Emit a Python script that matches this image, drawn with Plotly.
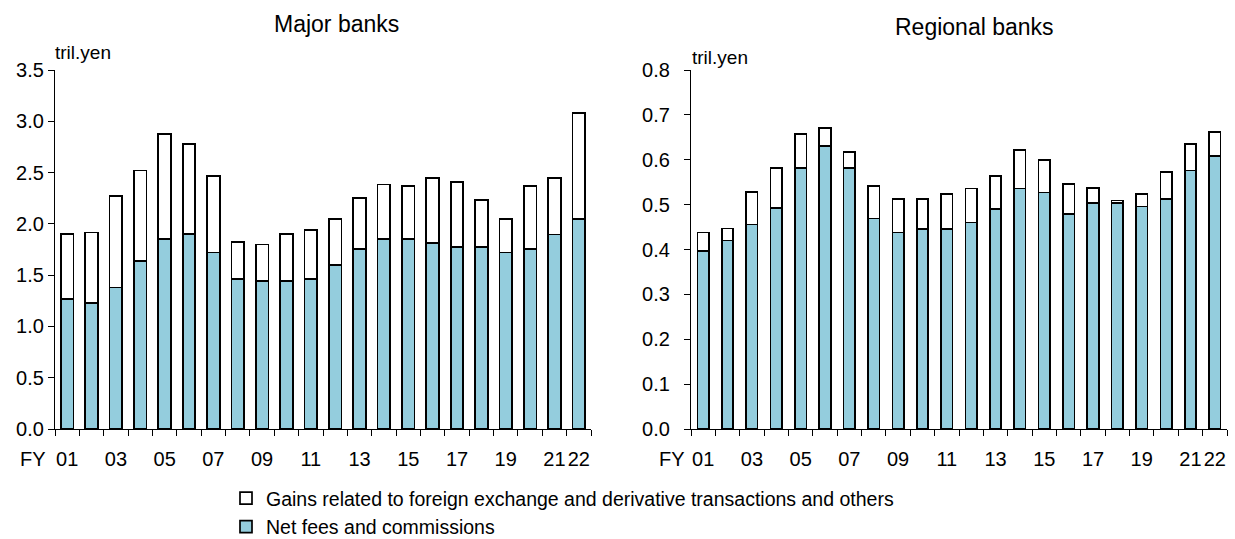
import plotly.graph_objects as go

years = ["01","02","03","04","05","06","07","08","09","10","11",
         "12","13","14","15","16","17","18","19","20","21","22"]
tick_labels = ["01","","03","","05","","07","","09","","11",
               "","13","","15","","17","","19","","21","22"]

# Major banks (tril. yen)
major_fees = [1.27,1.23,1.38,1.64,1.855,1.90,1.72,1.465,1.445,1.445,1.465,
              1.60,1.757,1.855,1.855,1.816,1.777,1.777,1.72,1.757,1.895,2.05]
major_total = [1.90,1.917,2.27,2.52,2.875,2.78,2.47,1.82,1.80,1.90,1.94,
               2.05,2.25,2.385,2.37,2.45,2.41,2.23,2.05,2.37,2.45,3.08]

# Regional banks (tril. yen)
reg_fees = [0.397,0.42,0.456,0.492,0.582,0.631,0.582,0.469,0.438,0.446,0.446,
            0.46,0.491,0.536,0.527,0.479,0.504,0.503,0.496,0.513,0.576,0.608]
reg_total = [0.438,0.447,0.528,0.582,0.657,0.671,0.617,0.5415,0.513,0.513,0.523,
             0.536,0.564,0.622,0.599,0.546,0.537,0.509,0.523,0.573,0.635,0.6625]

major_gains = [round(t - f, 4) for t, f in zip(major_total, major_fees)]
reg_gains = [round(t - f, 4) for t, f in zip(reg_total, reg_fees)]

BLUE = "#94CDDD"
FONT = "Arial, Liberation Sans, sans-serif"
name_fees = "Net fees and commissions"
name_gains = "Gains related to foreign exchange and derivative transactions and others"

W, H = 1235, 539
L, R, T, B = 55, 8, 70, 110          # plot-area margins in px
PW, PH = W - L - R, H - T - B


def px(x):
    return (x - L) / PW


def py(y):
    return (H - B - y) / PH


fig = go.Figure()
line = dict(color="black", width=1.7)
fig.add_trace(go.Bar(x=years, y=major_fees, name=name_fees, marker=dict(color=BLUE, line=line),
                     xaxis="x", yaxis="y", legendgroup="f", showlegend=True, width=0.52))
fig.add_trace(go.Bar(x=years, y=major_gains, name=name_gains, marker=dict(color="white", line=line),
                     xaxis="x", yaxis="y", legendgroup="g", showlegend=True, width=0.52))
fig.add_trace(go.Bar(x=years, y=reg_fees, name=name_fees, marker=dict(color=BLUE, line=line),
                     xaxis="x2", yaxis="y2", legendgroup="f", showlegend=False, width=0.47))
fig.add_trace(go.Bar(x=years, y=reg_gains, name=name_gains, marker=dict(color="white", line=line),
                     xaxis="x2", yaxis="y2", legendgroup="g", showlegend=False, width=0.47))

xcommon = dict(type="category", tickvals=years, ticktext=tick_labels, tickson="boundaries",
               ticks="outside", ticklen=6, tickwidth=1.3, tickcolor="black", tickangle=0,
               showline=True, linecolor="black", linewidth=1.3, showgrid=False,
               tickfont=dict(size=20, color="black", family=FONT), zeroline=False,
               automargin=False, ticklabelstandoff=12, range=[-0.5, 21.5])
ycommon = dict(ticks="outside", ticklen=6, tickwidth=1.3, tickcolor="black",
               showline=True, linecolor="black", linewidth=1.3, showgrid=False,
               tickfont=dict(size=20, color="black", family=FONT), zeroline=False,
               automargin=False, tickformat=".1f")


def label(text, x, y, size, xanchor="center"):
    return dict(text=text, x=px(x), y=py(y), xref="paper", yref="paper",
                xanchor=xanchor, yanchor="middle", showarrow=False,
                font=dict(size=size, family=FONT, color="black"))


fig.update_layout(
    width=W, height=H,
    margin=dict(l=L, r=R, t=T, b=B, autoexpand=False),
    paper_bgcolor="white", plot_bgcolor="white",
    barmode="stack",
    font=dict(family=FONT, color="black"),
    xaxis=dict(domain=[0, px(591)], anchor="y", **xcommon),
    yaxis=dict(domain=[0, 1], anchor="x", range=[0, 3.5], dtick=0.5, ticklabelstandoff=0, **ycommon),
    xaxis2=dict(domain=[px(691), 1], anchor="y2", **xcommon),
    yaxis2=dict(domain=[0, 1], anchor="x2", range=[0, 0.8], dtick=0.1, ticklabelstandoff=10, **ycommon),
    legend=dict(x=px(226), y=py(479), xanchor="left", yanchor="top",
                traceorder="reversed", font=dict(size=19.5, family=FONT, color="black"),
                bgcolor="rgba(0,0,0,0)", itemwidth=30, tracegroupgap=0),
    annotations=[
        label("Major banks", 336, 24, 23),
        label("Regional banks", 974, 27, 23),
        label("tril.yen", 53, 52, 19, "left"),
        label("tril.yen", 690, 57, 19, "left"),
        label("FY", 33, 459, 20),
        label("FY", 672, 459, 20),
    ],
)

fig.write_html("out.html", config={"displayModeBar": False},
               post_script="document.body.style.margin='0';")
